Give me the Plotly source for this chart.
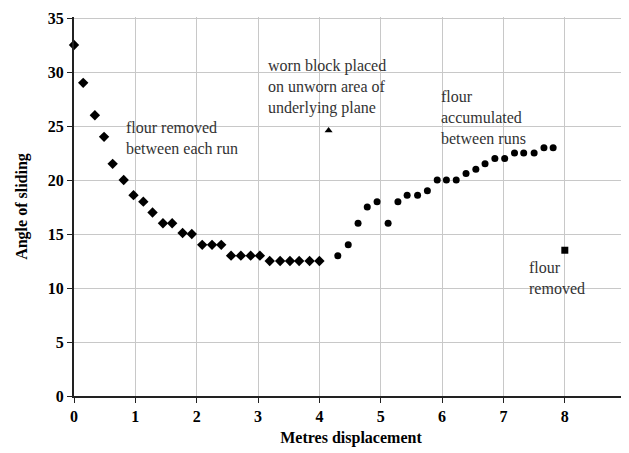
import plotly.graph_objects as go

# flour removed between each run (diamonds)
x_removed = [0.0, 0.15, 0.34, 0.49, 0.63, 0.81, 0.97, 1.13, 1.28, 1.45, 1.6, 1.77, 1.92,
             2.09, 2.25, 2.4, 2.56, 2.72, 2.88, 3.03, 3.19, 3.36, 3.52, 3.67, 3.84, 4.0]
y_removed = [32.5, 29, 26, 24, 21.5, 20, 18.6, 18, 17, 16, 16, 15.1, 15,
             14, 14, 14, 13, 13, 13, 13, 12.5, 12.5, 12.5, 12.5, 12.5, 12.5]

# flour accumulated between runs (circles)
x_accum = [4.3, 4.47, 4.63, 4.78, 4.94, 5.12, 5.28, 5.43, 5.6, 5.76, 5.92, 6.07, 6.23,
           6.39, 6.55, 6.7, 6.86, 7.02, 7.18, 7.33, 7.5, 7.66, 7.81]
y_accum = [13, 14, 16, 17.5, 18, 16, 18, 18.6, 18.6, 19, 20, 20, 20,
           20.6, 21, 21.5, 22, 22, 22.5, 22.5, 22.5, 23, 23]

# worn block placed on unworn area (triangle)
x_worn = [4.15]
y_worn = [24.6]

# flour removed (square)
x_sq = [8.0]
y_sq = [13.5]

x_ticks = [0, 1, 2, 3, 4, 5, 6, 7, 8, 9]
y_ticks = [0, 5, 10, 15, 20, 25, 30, 35]

serif = "Liberation Serif, Times New Roman, serif"

fig = go.Figure()
fig.add_trace(go.Scatter(x=x_removed, y=y_removed, mode="markers",
                         marker=dict(symbol="diamond", size=8, color="black"),
                         cliponaxis=False))
fig.add_trace(go.Scatter(x=x_accum, y=y_accum, mode="markers",
                         marker=dict(symbol="circle", size=7, color="black")))
fig.add_trace(go.Scatter(x=x_worn, y=y_worn, mode="markers",
                         marker=dict(symbol="triangle-up", size=7, color="black")))
fig.add_trace(go.Scatter(x=x_sq, y=y_sq, mode="markers",
                         marker=dict(symbol="square", size=7, color="black")))

ann_font = dict(family=serif, size=16, color="#333")
notes = [
    (0.82, 23.9, "flour removed<br>between each run"),
    (3.13, 28.6, "worn block placed<br>on unworn area of<br>underlying plane"),
    (5.95, 25.8, "flour<br>accumulated<br>between runs"),
    (7.39, 10.95, "flour<br>removed"),
]
for ax_, ay_, t in notes:
    fig.add_annotation(x=ax_, y=ay_, text=t, showarrow=False, xanchor="left",
                       yanchor="middle", align="left", font=ann_font)

fig.update_layout(
    width=621, height=445,
    margin=dict(l=66, r=1, t=9, b=57),
    paper_bgcolor="white", plot_bgcolor="white",
    showlegend=False,
    font=dict(family=serif, color="black"),
)
fig.update_xaxes(
    range=[0, 9.03], tickvals=x_ticks, ticktext=[str(v) for v in x_ticks],
    showgrid=True, gridcolor="#c8c8c8", gridwidth=1,
    showline=True, linecolor="#222", linewidth=2,
    ticks="outside", ticklen=5, tickcolor="#222",
    ticklabeloverflow="allow", automargin=False,
    tickfont=dict(family=serif, size=16, color="black", weight="bold"),
    title=dict(text="<b>Metres displacement</b>", font=dict(family=serif, size=16), standoff=8),
    zeroline=False,
)
fig.update_yaxes(
    range=[0, 35.1], tickvals=y_ticks, ticktext=[str(v) for v in y_ticks],
    showgrid=True, gridcolor="#c8c8c8", gridwidth=1,
    showline=True, linecolor="#222", linewidth=2,
    ticks="outside", ticklen=5, tickcolor="#222",
    ticklabeloverflow="allow", automargin=False,
    tickfont=dict(family=serif, size=16, color="black", weight="bold"),
    title=dict(text="<b>Angle of sliding</b>", font=dict(family=serif, size=16), standoff=16),
    zeroline=False,
)

fig.write_html("out.html")
